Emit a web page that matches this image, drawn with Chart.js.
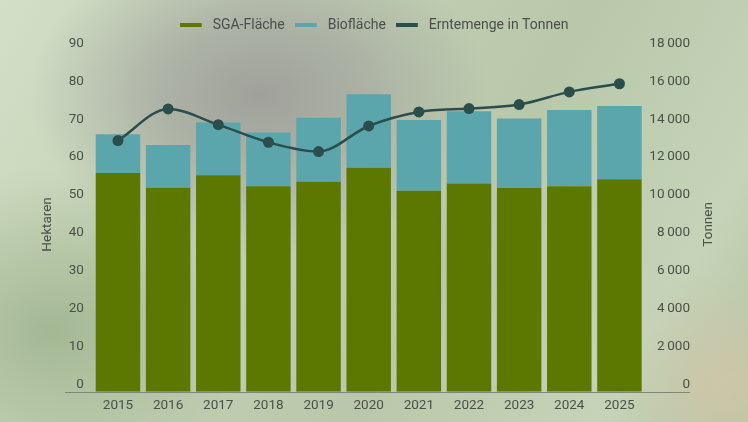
<!DOCTYPE html>
<html>
<head>
<meta charset="utf-8">
<script src="https://cdn.jsdelivr.net/npm/chart.js@4.4.1/dist/chart.umd.min.js"></script>
<style>
  html, body { margin:0; padding:0; width:748px; height:422px; overflow:hidden; }
  body {
    background:
      radial-gradient(ellipse 230px 160px at 260px 95px, rgba(158,158,154,0.95) 0%, rgba(163,165,158,0.7) 45%, rgba(170,175,165,0) 100%),
      radial-gradient(ellipse 110px 120px at 725px 385px, rgba(208,198,168,0.85) 0%, rgba(205,195,165,0) 100%),
      radial-gradient(ellipse 200px 160px at 50px 330px, rgba(150,172,132,0.7) 0%, rgba(150,170,135,0) 100%),
      linear-gradient(120deg, #d3dfc7 0%, #c1d0b3 35%, #b9c7ab 60%, #c5d3b8 85%, #b3c4a2 100%);
  }
  #wrap { position:absolute; left:0; top:0; width:748px; height:422px; }
</style>
</head>
<body>
<div id="wrap"><canvas id="c"></canvas></div>
<script>
// ---- Data ----
const years = ['2015','2016','2017','2018','2019','2020','2021','2022','2023','2024','2025'];
const sgaFlaeche = [57.8, 53.9, 57.2, 54.3, 55.5, 59.2, 53.1, 55.0, 53.8, 54.3, 56.1];
const bioFlaeche = [10.2, 11.3, 13.9, 14.2, 16.9, 19.4, 18.7, 19.1, 18.4, 20.1, 19.4];
const erntemenge = [13270, 14940, 14110, 13180, 12690, 14040, 14780, 14960, 15170, 15840, 16270];
const hektarTicks = [0, 10, 20, 30, 40, 50, 60, 70, 80, 90];
const tonnenTicks = [0, 2000, 4000, 6000, 8000, 10000, 12000, 14000, 16000, 18000];
const tonnenTickLabels = ['0', '2\u2009000', '4\u2009000', '6\u2009000', '8\u2009000', '10\u2009000', '12\u2009000', '14\u2009000', '16\u2009000', '18\u2009000'];
const seriesNames = ['SGA-Fläche', 'Biofläche', 'Erntemenge in Tonnen'];
const axisTitles = ['Hektaren', 'Tonnen'];

const FONT = 'Roboto, "Liberation Sans", sans-serif';
const TEXT = '#4b504a';
const OLIVE = '#5d7800';
const TEAL = '#5ba6ac';
const DARK = '#2b4e4d';
const seriesColors = [OLIVE, TEAL, DARK];

function swatch(color) {
  const c = document.createElement('canvas');
  c.width = 26; c.height = 4;
  const g = c.getContext('2d');
  g.fillStyle = color;
  g.fillRect(0, 0, 22, 4);
  return c;
}

const legendMargin = {
  id: 'legendMargin',
  beforeInit(chart) {
    const fit = chart.legend.fit;
    chart.legend.fit = function () { fit.bind(chart.legend)(); this.height += 9; };
  }
};

const extras = {
  id: 'extras',
  afterDraw(chart) {
    const ctx = chart.ctx;
    const yL = chart.scales.y, yR = chart.scales.y1;
    const area = chart.chartArea;
    const midY = (area.top + area.bottom) / 2 + 3;
    ctx.save();
    const y0 = Math.round(yL.getPixelForValue(0)) + 0.5;
    ctx.strokeStyle = 'rgba(120,125,115,0.9)';
    ctx.lineWidth = 1;
    ctx.beginPath();
    ctx.moveTo(yL.left + 7, y0);
    ctx.lineTo(yR.right, y0);
    ctx.stroke();
    ctx.fillStyle = TEXT;
    ctx.font = '13.5px ' + FONT;
    ctx.textAlign = 'center';
    ctx.textBaseline = 'middle';
    ctx.translate(yL.left - 10, midY);
    ctx.rotate(-Math.PI / 2);
    ctx.fillText(axisTitles[0], 0, 0);
    ctx.restore();
    ctx.save();
    ctx.fillStyle = TEXT;
    ctx.font = '13.5px ' + FONT;
    ctx.textAlign = 'center';
    ctx.textBaseline = 'middle';
    ctx.translate(yR.right + 19, midY);
    ctx.rotate(-Math.PI / 2);
    ctx.fillText(axisTitles[1], 0, 0);
    ctx.restore();
  }
};

new Chart(document.getElementById('c'), {
  data: {
    labels: years,
    datasets: [
      { type: 'bar', label: seriesNames[0], data: sgaFlaeche, backgroundColor: OLIVE, yAxisID: 'y', stack: 'a', order: 1,
        categoryPercentage: 1, barPercentage: 0.887 },
      { type: 'bar', label: seriesNames[1], data: bioFlaeche, backgroundColor: TEAL, yAxisID: 'y', stack: 'a', order: 1,
        categoryPercentage: 1, barPercentage: 0.887 },
      { type: 'line', label: seriesNames[2], data: erntemenge, yAxisID: 'y1', order: 0,
        borderColor: DARK, backgroundColor: DARK, borderWidth: 2.5,
        pointRadius: 5.5, pointBackgroundColor: DARK, pointBorderWidth: 0,
        cubicInterpolationMode: 'monotone' }
    ]
  },
  options: {
    responsive: true,
    maintainAspectRatio: false,
    animation: false,
    layout: { padding: { left: 58, right: 58, top: 8, bottom: 2 } },
    plugins: {
      tooltip: { enabled: false },
      legend: {
        position: 'top',
        labels: {
          color: TEXT, font: { family: FONT, size: 14 },
          usePointStyle: true, pointStyleWidth: 26, boxHeight: 4, padding: 10,
          sort: (a, b) => a.datasetIndex - b.datasetIndex,
          generateLabels(chart) {
            const items = Chart.defaults.plugins.legend.labels.generateLabels(chart);
            items.forEach(it => {
              it.lineWidth = 0; it.strokeStyle = 'rgba(0,0,0,0)';
              it.pointStyle = swatch(seriesColors[it.datasetIndex]);
            });
            return items;
          }
        }
      }
    },
    scales: {
      x: {
        stacked: true,
        grid: { display: false, drawTicks: false },
        border: { display: false },
        ticks: { color: TEXT, font: { family: FONT, size: 13.5 }, padding: 6, maxRotation: 0 }
      },
      y: {
        position: 'left', stacked: true, min: 0, max: 90,
        grid: { display: false, drawTicks: false },
        border: { display: false },
        afterFit(s) { s.width = 34.9; },
        afterBuildTicks(s) { s.ticks = hektarTicks.map(v => ({ value: v })); },
        ticks: { color: TEXT, font: { family: FONT, size: 13.5 }, padding: 9, labelOffset: -7.6 }
      },
      y1: {
        position: 'right', min: 0, max: 18000,
        grid: { display: false, drawTicks: false },
        border: { display: false },
        afterFit(s) { s.width = 45.5; },
        afterBuildTicks(s) { s.ticks = tonnenTicks.map(v => ({ value: v })); },
        ticks: { color: TEXT, font: { family: FONT, size: 13.5 }, padding: 4, labelOffset: -7.6, crossAlign: 'far',
          callback: (v) => tonnenTickLabels[tonnenTicks.indexOf(v)] }
      }
    }
  },
  plugins: [legendMargin, extras]
});
</script>
</body>
</html>
